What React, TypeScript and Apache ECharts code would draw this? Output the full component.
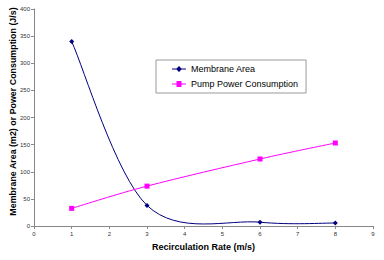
import React, { useEffect, useRef } from "react";
import * as echarts from "echarts";

const rates = [1, 3, 6, 8];
const membraneArea = [340, 38, 7, 5.5];
const pumpPower = [32.5, 73.5, 123.5, 153];

const seriesNames = ["Membrane Area", "Pump Power Consumption"];
const colors = ["#000080", "#FF00FF"];
const yTitle = "Membrane Area (m2) or Power Consumption (J/s)";
const xTitle = "Recirculation Rate (m/s)";

function smoothRenderer(xs: number[], ys: number[], color: string) {
  return (params: any, api: any) => {
    if (params.dataIndex !== 0) return null;
    const pts = xs.map((x, i) => api.coord([x, ys[i]]));
    const n = pts.length;
    const children: any[] = [];
    for (let i = 0; i < n - 1; i++) {
      const p0 = pts[Math.max(0, i - 1)];
      const p1 = pts[i];
      const p2 = pts[i + 1];
      const p3 = pts[Math.min(n - 1, i + 2)];
      children.push({
        type: "bezierCurve",
        shape: {
          x1: p1[0],
          y1: p1[1],
          cpx1: p1[0] + (p2[0] - p0[0]) / 6,
          cpy1: p1[1] + (p2[1] - p0[1]) / 6,
          cpx2: p2[0] - (p3[0] - p1[0]) / 6,
          cpy2: p2[1] - (p3[1] - p1[1]) / 6,
          x2: p2[0],
          y2: p2[1],
        },
        style: { stroke: color, lineWidth: 1, fill: null },
      });
    }
    return { type: "group", children };
  };
}

const diamondIcon = "path://M0,2.5H4.5L7,0L9.5,2.5H14V3.5H9.5L7,6L4.5,3.5H0Z";
const squareIcon = "path://M0,2.5H4.5V0H9.5V2.5H14V3.5H9.5V6H4.5V3.5H0Z";

export default function App() {
  const ref = useRef<HTMLDivElement>(null);
  useEffect(() => {
    const chart = echarts.init(ref.current!, null, { renderer: "svg" });
    const font = "Liberation Sans";
    chart.setOption({
      animation: false,
      backgroundColor: "#fff",
      grid: { left: 34, right: 11, top: 9, bottom: 34, containLabel: false, outerBoundsMode: "none" },
      graphic: [
        {
          type: "text",
          x: 12.7,
          y: 111.5,
          rotation: Math.PI / 2,
          style: {
            text: yTitle,
            align: "center",
            verticalAlign: "middle",
            fontFamily: font,
            fontSize: 8.9,
            fontWeight: "bold",
            fill: "#000",
          },
        },
      ],
      legend: {
        orient: "vertical",
        left: 156,
        top: 60,
        padding: [3.5, 8, 3.5, 16],
        itemGap: 4,
        itemWidth: 14,
        itemHeight: 6,
        itemTextGap: 3,
        borderColor: "#999",
        borderWidth: 1,
        textStyle: { fontFamily: font, fontSize: 9, lineHeight: 11, color: "#000" },
        data: [
          { name: seriesNames[0], icon: diamondIcon, itemStyle: { color: colors[0] } },
          { name: seriesNames[1], icon: squareIcon, itemStyle: { color: colors[1] } },
        ],
      },
      xAxis: {
        type: "value",
        min: 0,
        max: 9,
        interval: 1,
        name: xTitle,
        nameLocation: "middle",
        nameGap: 16,
        nameTextStyle: { fontFamily: font, fontSize: 9, fontWeight: "bold", color: "#000" },
        axisLine: { lineStyle: { color: "#888" } },
        axisTick: { show: true, length: 3, lineStyle: { color: "#888" } },
        axisLabel: { fontFamily: font, fontSize: 6, color: "#333", margin: 5 },
        splitLine: { show: false },
      },
      yAxis: {
        type: "value",
        min: 0,
        max: 400,
        interval: 50,
        axisLine: { show: true, lineStyle: { color: "#888" } },
        axisTick: { show: true, length: 3, lineStyle: { color: "#888" } },
        axisLabel: { fontFamily: font, fontSize: 6, color: "#333", margin: 4 },
        splitLine: { show: false },
      },
      series: [
        {
          name: seriesNames[0] + " curve",
          type: "custom",
          silent: true,
          renderItem: smoothRenderer(rates, membraneArea, colors[0]),
          data: rates.map((r, i) => [r, membraneArea[i]]),
          z: 1,
        },
        {
          name: seriesNames[1] + " curve",
          type: "custom",
          silent: true,
          renderItem: smoothRenderer(rates, pumpPower, colors[1]),
          data: rates.map((r, i) => [r, pumpPower[i]]),
          z: 1,
        },
        {
          name: seriesNames[0],
          type: "scatter",
          symbol: "diamond",
          symbolSize: 5,
          itemStyle: { color: colors[0], opacity: 1 },
          data: rates.map((r, i) => [r, membraneArea[i]]),
          z: 3,
        },
        {
          name: seriesNames[1],
          type: "scatter",
          symbol: "rect",
          symbolSize: 5,
          itemStyle: { color: colors[1], opacity: 1 },
          data: rates.map((r, i) => [r, pumpPower[i]]),
          z: 3,
        },
      ],
    });
    return () => chart.dispose();
  }, []);
  return <div ref={ref} style={{ width: 384, height: 260, position: "absolute", left: 0, top: 0 }} />;
}
